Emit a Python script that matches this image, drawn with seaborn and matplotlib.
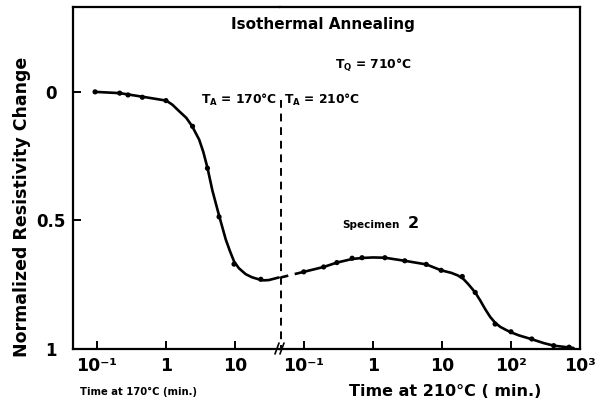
import matplotlib
matplotlib.use("Agg")
import matplotlib.pyplot as plt
import seaborn as sns
import pandas as pd
from matplotlib.lines import Line2D
from matplotlib import font_manager

# ---- data ----
# 170 C segment: measured points
t1_pts = [0.094, 0.214, 0.282, 0.455, 1.0, 2.43, 3.99, 5.88, 9.69, 23.7]
r1_pts = [0.0, 0.005, 0.012, 0.021, 0.034, 0.134, 0.297, 0.486, 0.670, 0.729]
# 170 C segment: drawn curve
t1_fit = [0.0936, 0.214, 0.459, 1.007, 1.24, 1.563, 1.97, 2.40, 3.03, 3.47, 3.99, 4.71, 5.88, 7.35,
          8.47, 9.68, 11.4, 14.3, 17.6, 22.1, 26.1, 30.8, 43.0]
r1_fit = [0.0, 0.005, 0.019, 0.034, 0.050, 0.076, 0.101, 0.134, 0.186, 0.233, 0.295, 0.384, 0.481, 0.574,
          0.620, 0.659, 0.686, 0.709, 0.721, 0.729, 0.733, 0.732, 0.722]

# 210 C segment: measured points
t2_pts = [0.0993, 0.193, 0.30, 0.499, 0.695, 1.49, 2.89, 5.92, 9.73, 19.7, 30.3, 58.9, 100, 200, 416, 695]
r2_pts = [0.700, 0.681, 0.664, 0.647, 0.645, 0.645, 0.657, 0.671, 0.694, 0.718, 0.780, 0.903, 0.933, 0.961, 0.987, 0.993]
# 210 C segment: drawn curve
t2_fit = [0.0993, 0.193, 0.30, 0.499, 0.695, 1.0, 1.49, 2.89, 5.92, 9.73, 13.7, 17.0, 20.5, 24.1, 30.3, 35.8,
          42.3, 49.9, 58.9, 70.0, 85.0, 100, 130, 200, 298, 416, 695, 806]
r2_fit = [0.700, 0.681, 0.664, 0.650, 0.646, 0.644, 0.645, 0.657, 0.671, 0.694, 0.704, 0.714, 0.728, 0.748, 0.780, 0.811,
          0.845, 0.875, 0.898, 0.914, 0.926, 0.935, 0.947, 0.962, 0.977, 0.987, 0.994, 0.996]
# dashed connector across the temperature change
t2_dash = [0.0459, 0.0993]
r2_dash = [0.722, 0.700]

x1_ticks = [0.1, 1, 10]
x1_labels = ["10⁻¹", "1", "10"]
x2_ticks = [0.1, 1, 10, 100, 1000]
x2_labels = ["10⁻¹", "1", "10", "10²", "10³"]
y_ticks = [0, 0.5, 1]
y_labels = ["0", "0.5", "1"]

sns.set_style("ticks")
plt.rcParams["font.family"] = ["DejaVu Sans"]
plt.rcParams["font.weight"] = "bold"
for k in ("text.color", "axes.labelcolor", "xtick.color", "ytick.color", "axes.edgecolor"):
    plt.rcParams[k] = "black"

names = {f.name for f in font_manager.fontManager.ttflist}
narrow = "Liberation Sans Narrow" if "Liberation Sans Narrow" in names else "DejaVu Sans"
narrow_size = 9.2 if narrow == "Liberation Sans Narrow" else 7.2

W, H = 610, 405
fig = plt.figure(figsize=(W / 100, H / 100), dpi=100)
fig.patch.set_facecolor("white")

def fx(px):
    return px / W

def fy(py):
    return 1 - py / H

ax1 = fig.add_axes([fx(73), fy(349), fx(207), 342 / H])
ax2 = fig.add_axes([fx(280), fy(349), fx(300), 342 / H])

lw = 1.9
df1f = pd.DataFrame({"t": t1_fit, "r": r1_fit})
df1p = pd.DataFrame({"t": t1_pts, "r": r1_pts})
df2f = pd.DataFrame({"t": t2_fit, "r": r2_fit})
df2p = pd.DataFrame({"t": t2_pts, "r": r2_pts})
df2d = pd.DataFrame({"t": t2_dash, "r": r2_dash})

sns.lineplot(data=df1f, x="t", y="r", ax=ax1, color="black", lw=lw, sort=False, estimator=None)
sns.scatterplot(data=df1p, x="t", y="r", ax=ax1, color="black", s=14, edgecolor="none", zorder=3)
sns.lineplot(data=df2f, x="t", y="r", ax=ax2, color="black", lw=lw, sort=False, estimator=None)
sns.scatterplot(data=df2p, x="t", y="r", ax=ax2, color="black", s=14, edgecolor="none", zorder=3)
sns.lineplot(data=df2d, x="t", y="r", ax=ax2, color="black", lw=lw, linestyle=(0, (3, 2.5)), sort=False, estimator=None)

for ax in (ax1, ax2):
    ax.set_xscale("log")
    ax.set_ylim(1.0, -0.33)
    ax.set_xlabel("")
    ax.set_ylabel("")
    ax.minorticks_off()
    ax.tick_params(axis="x", which="both", direction="in", length=6, width=1.4, pad=6, labelsize=12.5)
    for s in ax.spines.values():
        s.set_linewidth(1.6)
        s.set_color("black")

ax1.set_xlim(0.045, 44.9)
ax2.set_xlim(0.045, 1000)

ax1.set_xticks(x1_ticks)
ax1.set_xticklabels(x1_labels, fontweight="bold")
ax2.set_xticks(x2_ticks)
ax2.set_xticklabels(x2_labels, fontweight="bold")
ax1.minorticks_off()
ax2.minorticks_off()

ax1.set_yticks(y_ticks)
ax1.set_yticklabels(y_labels, fontweight="bold", ha="center")
ax1.tick_params(axis="y", direction="in", length=6, width=1.4, pad=16, labelsize=12)
ax2.set_yticks([])

ax1.spines["right"].set_visible(False)
ax2.spines["left"].set_visible(False)

# dashed separator line
ax2.plot([0.0459, 0.0459], [0.03, 1.0], color="black", lw=1.4, linestyle=(0, (4, 3)), clip_on=False)
# break mark on the x axis
for dx in (-3, 2):
    fig.add_artist(Line2D([fx(280 + dx - 2), fx(280 + dx + 2)], [fy(354), fy(343)],
                          transform=fig.transFigure, color="black", lw=1.2))

# labels
fig.text(fx(22), fy(207), "Normalized Resistivity Change", rotation=90, ha="center", va="center",
         fontsize=12.5, fontweight="bold")
fig.text(fx(138), fy(392), "Time at 170°C (min.)", ha="center", va="center", fontsize=narrow_size,
         fontweight="bold", family=[narrow, "DejaVu Sans"])
fig.text(fx(445), fy(392), "Time at 210°C ( min.)", ha="center", va="center", fontsize=11.5, fontweight="bold")

fig.text(fx(323), fy(25), "Isothermal Annealing", ha="center", va="center", fontsize=11, fontweight="bold")
fig.text(fx(373), fy(65), "T$_\\mathregular{Q}$ = 710°C", ha="center", va="center", fontsize=8.8, fontweight="bold")
fig.text(fx(277), fy(100), "T$_\\mathregular{A}$ = 170°C", ha="right", va="center", fontsize=8.8, fontweight="bold")
fig.text(fx(284), fy(100), "T$_\\mathregular{A}$ = 210°C", ha="left", va="center", fontsize=8.8, fontweight="bold")
fig.text(fx(342), fy(225), "Specimen", ha="left", va="center", fontsize=7.5, fontweight="bold")
fig.text(fx(413), fy(223), "2", ha="center", va="center", fontsize=11.5, fontweight="bold")

fig.savefig("out.png", dpi=100, facecolor="white")
